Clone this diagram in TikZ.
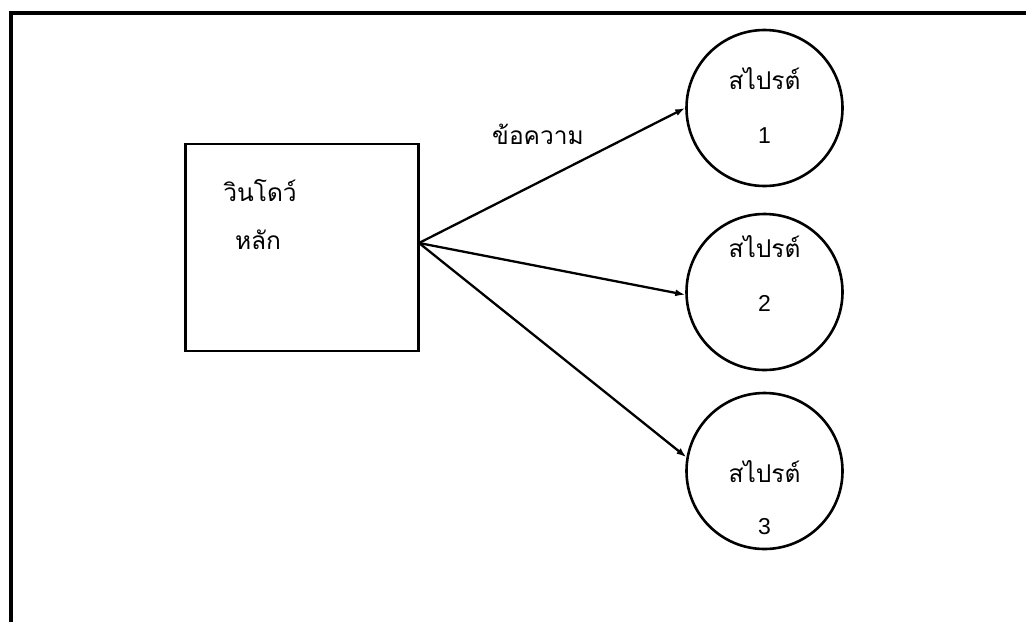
\documentclass[tikz,border=0pt]{standalone}
\usepackage{fontspec}
\setmainfont{Liberation Sans}
\newfontfamily\thai[Script=Thai]{Loma}
\usetikzlibrary{arrows.meta}
\tikzset{
  frame/.style={line width=3.4pt},
  boxnode/.style={draw, line width=2.8pt, rectangle, minimum width=233pt, minimum height=207pt, inner sep=0pt},
  sprite/.style={draw, line width=2.6pt, circle, minimum size=156pt, inner sep=0pt},
  thaitext/.style={font=\thai\fontsize{24.5pt}{28pt}\selectfont, inner sep=0pt},
  numtext/.style={font=\fontsize{23pt}{26pt}\selectfont, inner sep=0pt},
  msg/.style={-{Latex[length=10pt,width=7pt]}, line width=2.3pt}
}
\begin{document}
\begin{tikzpicture}[x=1pt,y=-1pt]
\useasboundingbox (0,0) rectangle (1026,622);
\fill[white] (0,0) rectangle (1026,622);
\draw[frame] (11,622) -- (11,13) -- (1026,13);
\node[boxnode] (main) at (302,247.5) {};
\node[thaitext] (t1) at (260,191) {วินโดว์};
\node[thaitext] (t2) at (258,240) {หลัก};
\node[sprite] (s1) at (764.5,108) {};
\node[thaitext] (s1a) at (764.5,79) {สไปรต์};
\node[numtext] (s1b) at (764.5,136) {1};
\node[sprite] (s2) at (764.5,292) {};
\node[thaitext] (s2a) at (764.5,247) {สไปรต์};
\node[numtext] (s2b) at (764.5,303) {2};
\node[sprite] (s3) at (764.5,471) {};
\node[thaitext] (s3a) at (764.5,472) {สไปรต์};
\node[numtext] (s3b) at (764.5,527) {3};
\coordinate (o) at (419,243);
\draw[msg] (o) -- (s1.west);
\draw[msg] (o) -- (s2.182);
\draw[msg] (o) -- (s3.170);
\node[thaitext] (lbl) at (538,134) {ข้อความ};
\end{tikzpicture}
\end{document}
